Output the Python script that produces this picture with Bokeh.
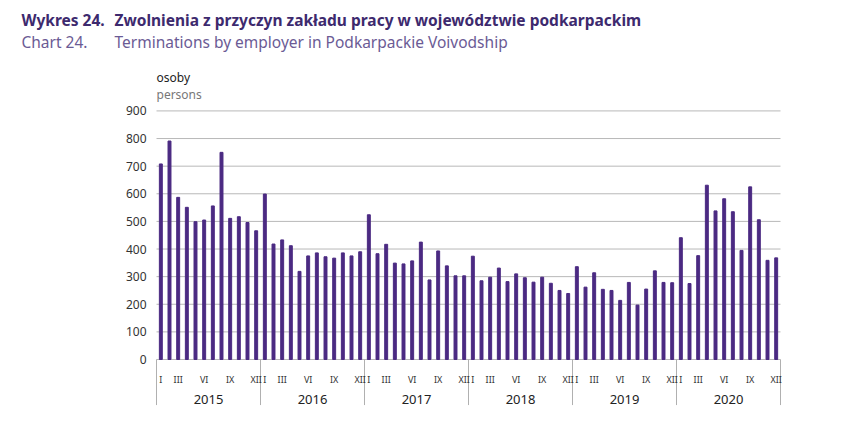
from bokeh.plotting import figure
from bokeh.models import Range1d
from bokeh.embed import file_html
from bokeh.resources import INLINE
from bokeh.core.properties import value

years = ["2015", "2016", "2017", "2018", "2019", "2020"]
month_labels = ["I", "", "III", "", "", "VI", "", "", "IX", "", "", "XII"]
y_ticks = [0, 100, 200, 300, 400, 500, 600, 700, 800, 900]

v2015 = [708, 791, 587, 551, 499, 505, 556, 750, 511, 517, 496, 466]
v2016 = [599, 418, 433, 412, 319, 375, 386, 372, 367, 386, 375, 390]
v2017 = [524, 383, 417, 349, 346, 357, 425, 288, 393, 339, 303, 303]
v2018 = [374, 285, 298, 331, 282, 310, 296, 280, 298, 276, 250, 239]
v2019 = [336, 262, 314, 254, 250, 214, 279, 197, 255, 321, 279, 278]
v2020 = [441, 275, 376, 631, 538, 582, 535, 395, 625, 506, 359, 368]

values = v2015 + v2016 + v2017 + v2018 + v2019 + v2020
xs = list(range(len(values)))
n = len(values)

FONT = "Noto Sans"
PURPLE = "#4b2a82"

# frame covers the whole canvas; 8.667 px per month, 0.2762 px per person
p = figure(width=836, height=421, output_backend="svg", toolbar_location=None,
           x_range=Range1d(-18.5, 77.96), y_range=Range1d(-224.5, 1299.8),
           min_border=0)
p.outline_line_color = None
p.background_fill_color = "white"
p.border_fill_color = "white"
p.xaxis.visible = False
p.yaxis.visible = False
p.xgrid.visible = False
p.ygrid.visible = False

# gridlines (value axis)
left, right = -0.5, n - 0.5
p.segment(x0=[left] * len(y_ticks), y0=y_ticks, x1=[right] * len(y_ticks), y1=y_ticks,
          line_color="#b8b8b8", line_width=1)

# bars
p.vbar(x=xs, top=values, width=0.34, bottom=0, color=PURPLE)

# y tick labels
p.text(x=[left - 1.15] * len(y_ticks), y=y_ticks, text=[str(t) for t in y_ticks],
       text_font=value(FONT), text_font_size="12px", text_color="#333333",
       text_align="right", text_baseline="middle")

# year separators
bounds = [i * 12 - 0.5 for i in range(len(years) + 1)]
p.segment(x0=bounds, y0=[0] * len(bounds), x1=bounds, y1=[-165] * len(bounds),
          line_color="#b0b0b0", line_width=1)

# month labels
mx, mt = [], []
for yi in range(len(years)):
    for mi, lab in enumerate(month_labels):
        if lab:
            mx.append(yi * 12 + mi)
            mt.append(lab)
p.text(x=mx, y=[-72] * len(mx), text=mt, text_font=value(FONT), text_font_size="9px",
       text_color="#333333", text_align="center", text_baseline="middle")

# year labels
yx = [i * 12 + 5.5 for i in range(len(years))]
p.text(x=yx, y=[-145] * len(yx), text=years, text_font=value(FONT), text_font_size="13px",
       text_color="#222222", text_align="center", text_baseline="middle")

def lab(x, y, text, size, color, style="normal"):
    p.text(x=[x], y=[y], text=[text], text_font=value(FONT), text_font_size=size,
           text_color=color, text_font_style=style, text_baseline="middle", text_align="left")

lab(-16.08, 1231, "Wykres 24.", "15.5px", "#3d2a6e", "bold")
lab(-5.35, 1231, "Zwolnienia z przyczyn zakładu pracy w województwie podkarpackim", "15.5px", "#3d2a6e", "bold")
lab(-16.08, 1148, "Chart 24.", "15.5px", "#6b5b95")
lab(-5.35, 1148, "Terminations by employer in Podkarpackie Voivodship", "15.5px", "#6b5b95")
lab(-0.5, 1021, "osoby", "12px", "#222222")
lab(-0.5, 959, "persons", "12px", "#777777")

open("out.html", "w").write(file_html(p, INLINE))
